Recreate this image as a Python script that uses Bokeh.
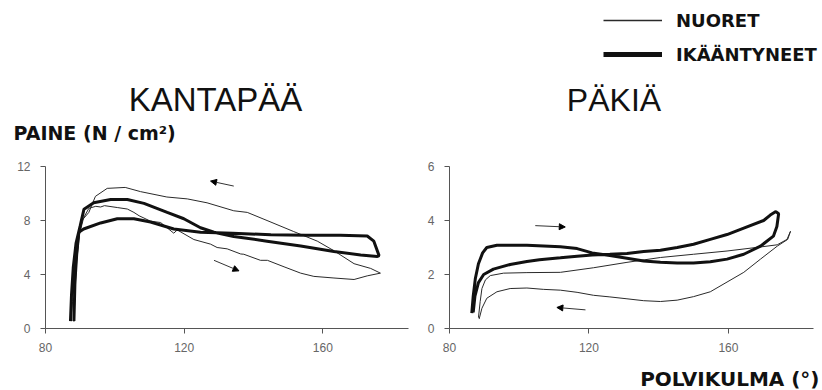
from bokeh.plotting import figure
from bokeh.models import Range1d, FixedTicker, Label, Legend, LegendItem, Arrow, NormalHead
from bokeh.layouts import row, column
from bokeh.embed import file_html
from bokeh.resources import INLINE

# ---------------- data ----------------
x_ticks = [80, 120, 160]
heel_y_ticks = [0, 4, 8, 12]
ball_y_ticks = [0, 2, 4, 6]

# KANTAPÄÄ (heel) - NUORET (young), thin loop
heel_young_x = [88.2, 88.5, 89.0, 89.8, 91.0, 92.5, 94.5, 95.9, 97.0, 100.7, 103.6, 105.5, 107.0,
                110.3, 113.2, 117.0, 118.0, 122.8, 127.6, 129.5, 132.4, 136.3, 137.2, 142.0, 144.0,
                148.8, 153.6, 157.4, 163.2, 169.0, 172.8, 176.6,
                173.8, 169.0, 163.2, 158.4, 151.6, 143.9, 138.2, 134.3, 126.6, 120.9, 115.0, 107.4,
                103.0, 97.8, 94.4, 92.5, 90.5, 89.5, 88.5, 87.8, 87.3]
heel_young_y = [0.5, 2.5, 5.0, 7.0, 8.2, 8.9, 9.05, 9.0, 9.1, 8.96, 8.85, 8.6, 8.35,
                7.95, 7.85, 7.06, 7.3, 6.59, 6.25, 6.0, 5.9, 5.52, 5.5, 5.05, 5.05,
                4.57, 4.1, 3.86, 3.74, 3.63, 3.9, 4.1,
                4.45, 4.8, 5.76, 6.47, 7.18, 8.0, 8.6, 8.72, 9.31, 9.6, 9.74, 10.14,
                10.45, 10.38, 9.79, 8.6, 8.0, 6.5, 4.0, 2.0, 0.6]

# KANTAPÄÄ (heel) - IKÄÄNTYNEET (elderly), thick loop
heel_old_x = [87.2, 87.5, 88.0, 88.8, 90.0, 91.1, 93.9, 98.8, 103.6, 108.4, 115.1, 119.9, 124.7,
              128.6, 134.3, 143.9, 153.6, 163.2, 170.9, 175.7, 176.2, 174.7, 172.8, 165.0, 155.0,
              145.0, 134.0, 124.7, 117.0, 110.3, 105.5, 100.7, 95.9, 91.0, 89.6, 89.0, 88.5, 88.2]
heel_old_y = [0.55, 2.5, 4.5, 6.3, 7.6, 8.84, 9.31, 9.55, 9.55, 9.27, 8.6, 8.13, 7.46,
              7.13, 6.82, 6.47, 6.11, 5.71, 5.45, 5.33, 5.4, 6.47, 6.85, 6.9, 6.9,
              6.95, 7.05, 7.13, 7.37, 7.89, 8.13, 8.13, 7.82, 7.37, 7.13, 5.5, 3.5, 0.55]

# PÄKIÄ (ball of foot) - NUORET (young), thin loop
ball_young_x = [88.3, 88.8, 89.3, 90.3, 91.7, 95.5, 102.2, 111.8, 121.3, 130.9, 140.5, 150.0,
                159.6, 169.2, 174.0, 176.8, 177.8,
                177.0, 174.0, 169.2, 164.4, 159.6, 154.8, 150.0, 145.3, 140.5, 135.7, 130.9,
                126.0, 121.3, 116.6, 111.8, 106.9, 102.2, 97.4, 93.6, 90.7, 89.3, 88.5]
ball_young_y = [0.4, 1.0, 1.48, 1.8, 1.96, 2.05, 2.07, 2.08, 2.25, 2.45, 2.63, 2.75,
                2.87, 3.02, 3.1, 3.3, 3.6,
                3.3, 3.05, 2.57, 2.08, 1.72, 1.36, 1.18, 1.05, 1.0, 1.03, 1.1,
                1.17, 1.23, 1.34, 1.42, 1.45, 1.5, 1.48, 1.36, 1.12, 0.75, 0.35]

# PÄKIÄ (ball of foot) - IKÄÄNTYNEET (elderly), thick loop
ball_old_x = [86.4, 86.8, 87.4, 88.3, 89.5, 90.7, 93.6, 102.2, 111.8, 116.6, 120.9, 126.0, 130.9,
              135.7, 140.5, 145.3, 150.0, 154.8, 159.6, 164.4, 169.2, 172.9, 173.9, 174.4, 173.6,
              172.0, 170.1, 164.4, 159.6, 154.8, 150.0, 145.3, 140.5, 135.7, 130.9, 126.0, 120.9,
              116.6, 111.8, 105.8, 102.2, 97.4, 92.6, 89.8, 88.3, 87.3, 86.8]
ball_old_y = [0.57, 1.2, 1.84, 2.4, 2.8, 3.0, 3.08, 3.08, 3.03, 2.96, 2.8, 2.7, 2.6,
              2.5, 2.45, 2.43, 2.43, 2.47, 2.57, 2.75, 3.05, 3.42, 3.78, 4.25, 4.33,
              4.2, 4.0, 3.72, 3.48, 3.3, 3.12, 3.0, 2.9, 2.85, 2.78, 2.75, 2.72,
              2.68, 2.62, 2.55, 2.48, 2.37, 2.2, 2.0, 1.7, 1.2, 0.6]

# direction arrows (start -> end)
heel_arrows_x0 = [134.3, 128.6]
heel_arrows_y0 = [10.55, 5.05]
heel_arrows_x1 = [127.6, 135.8]
heel_arrows_y1 = [10.92, 4.27]
ball_arrows_x0 = [104.6, 119.0]
ball_arrows_y0 = [3.81, 0.69]
ball_arrows_x1 = [113.2, 110.8]
ball_arrows_y1 = [3.76, 0.78]

# labels
title_heel = "KANTAPÄÄ"
title_ball = "PÄKIÄ"
y_label = "PAINE (N / cm²)"
x_label = "POLVIKULMA (°)"
series_names = ["NUORET", "IKÄÄNTYNEET"]

THIN_C = "#2a2a2a"
THICK_C = "#111111"
W = 822
TOP_H = 145
MID_H = 220
BOT_H = 25
NAN = float("nan")


def style(p, yticks):
    p.xaxis.ticker = FixedTicker(ticks=x_ticks)
    p.yaxis.ticker = FixedTicker(ticks=yticks)
    for ax in (p.xaxis, p.yaxis):
        ax.axis_line_color = "#555555"
        ax.major_tick_line_color = "#555555"
        ax.major_tick_out = 5
        ax.major_tick_in = 0
        ax.minor_tick_line_color = None
        ax.major_label_text_font = "Liberation Sans"
        ax.major_label_text_font_size = "12px"
        ax.major_label_text_color = "#666666"
    p.xaxis.major_label_standoff = 9
    p.yaxis.major_label_standoff = 10
    p.xgrid.visible = False
    p.ygrid.visible = False
    p.outline_line_color = None
    p.background_fill_color = "white"
    p.border_fill_color = "white"


def strip(h):
    s = figure(width=W, height=h, output_backend="svg", toolbar_location=None,
               x_range=Range1d(0, W), y_range=Range1d(h, 0),
               x_axis_type=None, y_axis_type=None,
               min_border_left=0, min_border_right=0, min_border_top=0, min_border_bottom=0)
    s.xgrid.visible = False
    s.ygrid.visible = False
    s.outline_line_color = None
    s.background_fill_color = "white"
    s.border_fill_color = "white"
    return s


def label(p, x, y, text, size, bold=False, align="center", font="Liberation Sans"):
    p.add_layout(Label(x=x, y=y, text=text, text_align=align, text_baseline="middle",
                       text_font=font, text_font_style="bold" if bold else "normal",
                       text_font_size=size, text_color="#111111"))


# ---------------- top strip: titles, y label, legend ----------------
p0 = strip(TOP_H)
label(p0, 215, 98.5, title_heel, "33px")
label(p0, 613.5, 99.5, title_ball, "32px")
label(p0, 13, 132.5, y_label, "19px", bold=True, align="left", font="DejaVu Sans")
lg_thin = p0.line(x=[NAN, NAN], y=[NAN, NAN], line_color=THIN_C, line_width=1.5)
lg_thick = p0.line(x=[NAN, NAN], y=[NAN, NAN], line_color=THICK_C, line_width=5)
legend = Legend(items=[LegendItem(label=series_names[0], renderers=[lg_thin]),
                       LegendItem(label=series_names[1], renderers=[lg_thick])],
                location=(603, 79), orientation="vertical",
                glyph_width=59, glyph_height=24, label_height=24, label_standoff=14,
                spacing=10, padding=0, margin=0,
                border_line_color=None, background_fill_alpha=0,
                label_text_font="DejaVu Sans", label_text_font_style="bold",
                label_text_font_size="18px", label_text_color="#111111")
p0.add_layout(legend)

# ---------------- left: KANTAPÄÄ ----------------
p1 = figure(width=411, height=MID_H, output_backend="svg", toolbar_location=None,
            x_range=Range1d(80, 184.7), y_range=Range1d(0, 12),
            min_border_left=45, min_border_right=3, min_border_top=14, min_border_bottom=37)
style(p1, heel_y_ticks)
p1.line(heel_young_x, heel_young_y, line_color=THIN_C, line_width=1)
p1.line(heel_old_x, heel_old_y, line_color=THICK_C, line_width=3)
for i in range(len(heel_arrows_x0)):
    p1.add_layout(Arrow(end=NormalHead(size=6, fill_color="black", line_color="black"),
                        x_start=heel_arrows_x0[i], y_start=heel_arrows_y0[i],
                        x_end=heel_arrows_x1[i], y_end=heel_arrows_y1[i],
                        line_color="#333333", line_width=1))

# ---------------- right: PÄKIÄ ----------------
p2 = figure(width=411, height=MID_H, output_backend="svg", toolbar_location=None,
            x_range=Range1d(80, 184.4), y_range=Range1d(0, 6),
            min_border_left=38, min_border_right=9, min_border_top=21, min_border_bottom=34)
style(p2, ball_y_ticks)
p2.line(ball_young_x, ball_young_y, line_color=THIN_C, line_width=1)
p2.line(ball_old_x, ball_old_y, line_color=THICK_C, line_width=3)
for i in range(len(ball_arrows_x0)):
    p2.add_layout(Arrow(end=NormalHead(size=6, fill_color="black", line_color="black"),
                        x_start=ball_arrows_x0[i], y_start=ball_arrows_y0[i],
                        x_end=ball_arrows_x1[i], y_end=ball_arrows_y1[i],
                        line_color="#333333", line_width=1))

# ---------------- bottom strip: x label ----------------
p3 = strip(BOT_H)
label(p3, 819, 13, x_label, "20px", bold=True, align="right", font="DejaVu Sans")

layout = column(p0, row(p1, p2), p3)
open("out.html", "w").write(file_html(layout, INLINE))
